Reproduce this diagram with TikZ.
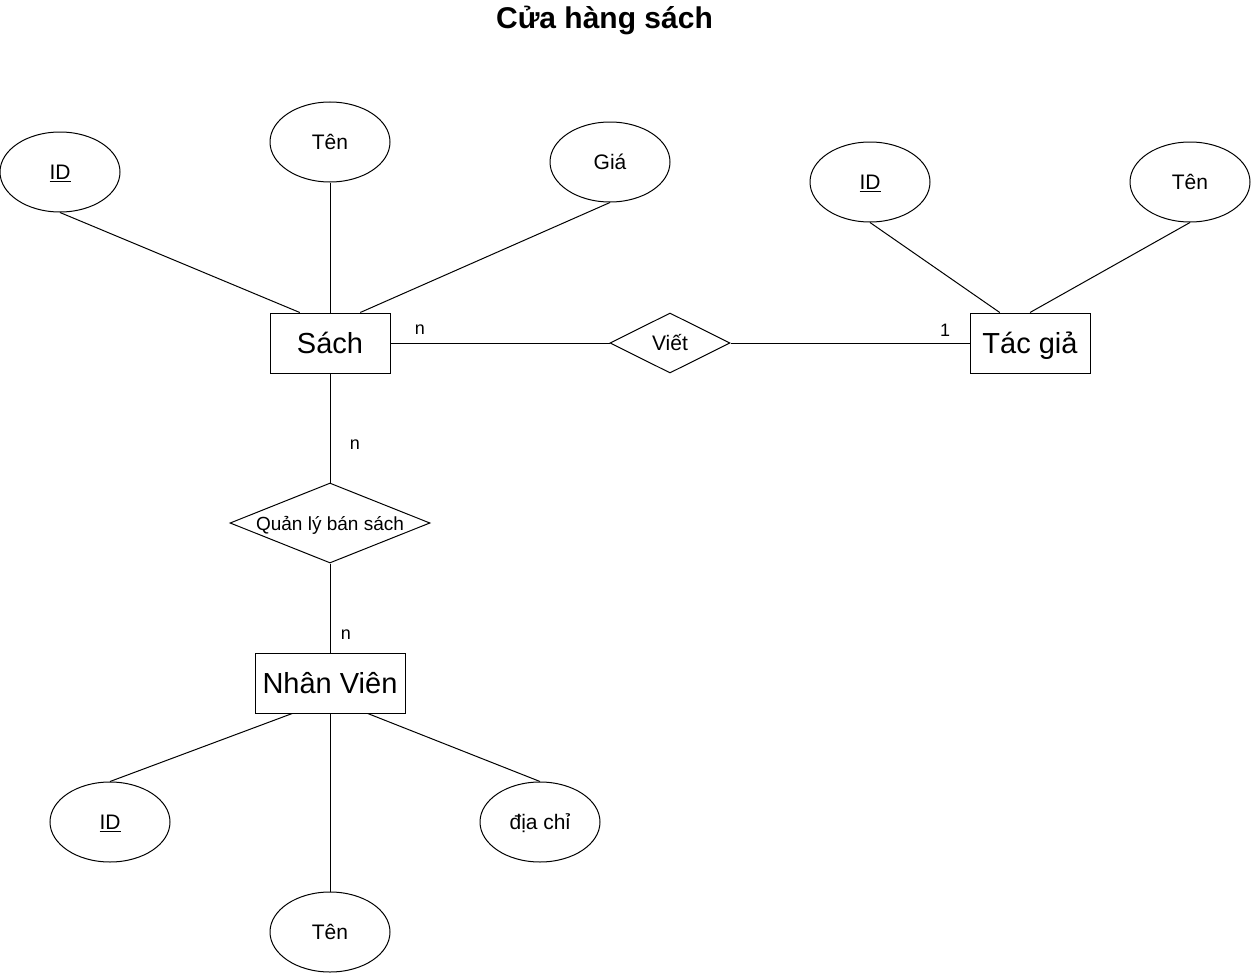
\documentclass[tikz,border=0pt]{standalone}
\usepackage{fontspec}
\setmainfont{Liberation Sans}
\usetikzlibrary{shapes.geometric,calc}

\begin{document}
\begin{tikzpicture}[x=1pt, y=-1pt, line width=1pt,
    entity/.style={draw, rectangle, minimum width=120pt, minimum height=60pt, inner sep=0pt,
        font=\fontsize{29}{34}\selectfont, text height=21pt, text depth=0pt},
    attrib/.style={draw, ellipse, minimum width=120pt, minimum height=80pt, inner sep=0pt,
        font=\fontsize{21}{25}\selectfont, text height=15.5pt, text depth=0.5pt},
    relation/.style={draw, diamond, aspect=2, minimum width=120pt, minimum height=60pt, inner sep=0pt,
        font=\fontsize{21}{25}\selectfont, text height=15.5pt, text depth=0.5pt},
    card/.style={font=\fontsize{18}{21}\selectfont, inner sep=0pt}]
    \useasboundingbox (0,0) rectangle (1251,974);
    \node[font=\bfseries\fontsize{30}{36}\selectfont, anchor=base, inner sep=0pt] (title) at (604.5,28.5) {Cửa hàng sách};

    \node[entity] (sach) at (330,343) {Sách};
    \node[entity] (tacgia) at (1030,343) {Tác giả};
    \node[entity, minimum width=150pt] (nhanvien) at (330,683) {Nhân Viên};
    \node[relation] (viet) at (670,343) {Viết};
    \node[relation, minimum width=200pt, minimum height=80pt, aspect=2.5,
        font=\fontsize{19}{23}\selectfont] (quanly) at (330,523) {Quản lý bán sách};

    \node[attrib] (sach-id) at (60,172) {\underline{ID}};
    \node[attrib] (sach-ten) at (330,142) {Tên};
    \node[attrib] (sach-gia) at (610,162) {Giá};
    \node[attrib] (tg-id) at (870,182) {\underline{ID}};
    \node[attrib] (tg-ten) at (1190,182) {Tên};
    \node[attrib] (nv-id) at (110,822) {\underline{ID}};
    \node[attrib] (nv-ten) at (330,932) {Tên};
    \node[attrib] (nv-diachi) at (540,822) {địa chỉ};

    \draw (sach-id.south) -- ($(sach.north west)!0.25!(sach.north east)$);
    \draw (sach-ten) -- (sach);
    \draw (sach-gia.south) -- ($(sach.north west)!0.75!(sach.north east)$);
    \draw (tg-id.south) -- ($(tacgia.north west)!0.25!(tacgia.north east)$);
    \draw (tg-ten.south) -- (tacgia.north);
    \draw (sach) -- (viet) -- (tacgia);
    \draw (sach) -- (quanly) -- (nhanvien);
    \draw ($(nhanvien.south west)!0.25!(nhanvien.south east)$) -- (nv-id.north);
    \draw (nhanvien) -- (nv-ten);
    \draw ($(nhanvien.south west)!0.75!(nhanvien.south east)$) -- (nv-diachi.north);

    \node[card] (n-viet) at (420,330) {n};
    \node[card] (one-viet) at (945,330) {1};
    \node[card] (n-sach) at (355,445) {n};
    \node[card] (n-nv) at (346,635) {n};
\end{tikzpicture}
\end{document}
